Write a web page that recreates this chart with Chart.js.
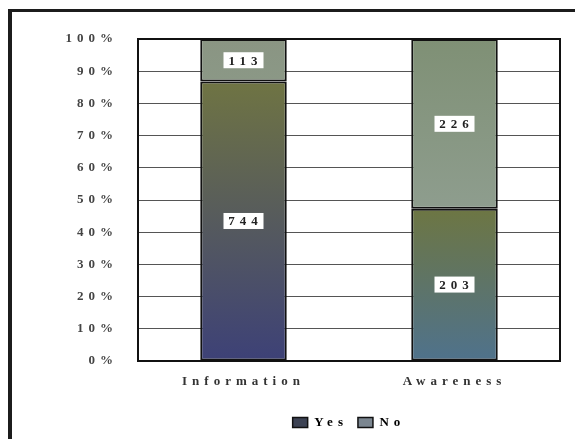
<!DOCTYPE html>
<html>
<head>
<meta charset="utf-8">
<script src="https://cdn.jsdelivr.net/npm/chart.js@4"></script>
<style>
  body { margin: 0; background: #fff; }
  #wrap { position: relative; width: 575px; height: 439px; overflow: hidden; }
  #frame { position: absolute; left: 8px; top: 9px; width: 700px; height: 600px;
           border-top: 3px solid #1c1c1c; border-left: 4px solid #1c1c1c; }
  #chart { position: absolute; left: 0; top: 0; }
</style>
</head>
<body>
<div id="wrap">
  <div id="frame"></div>
  <canvas id="chart" width="575" height="439"></canvas>
</div>
<script>
// categories and counts
const categories = ['Information', 'Awareness'];
const yesCounts = [744, 203];
const noCounts = [113, 226];
const seriesNames = ['Yes', 'No'];

// stacked to 100%
const totals = yesCounts.map((v, i) => v + noCounts[i]);
const yesPct = yesCounts.map((v, i) => v / totals[i] * 100);
const noPct = noCounts.map((v, i) => v / totals[i] * 100);

const serif = '"Liberation Serif", "Times New Roman", serif';

// gradient stops per bar segment (top colour, bottom colour)
const yesColors = [['#6f7443', '#3d4177'], ['#6d7643', '#4f728c']];
const noColors = [['#8a9583', '#8b9886'], ['#7f9075', '#8e9d8e']];

function segmentGradient(context, stops) {
    const chart = context.chart;
    const yScale = chart.scales.y;
    const i = context.dataIndex;
    if (!chart.chartArea || !yScale) return stops[i][0];
    // value range of this segment in the stack
    const low = context.datasetIndex === 0 ? 0 : yesPct[i];
    const high = context.datasetIndex === 0 ? yesPct[i] : 100;
    const top = yScale.getPixelForValue(high);
    const bottom = yScale.getPixelForValue(low);
    if (!isFinite(top) || !isFinite(bottom) || top === bottom) return stops[i][0];
    const g = chart.ctx.createLinearGradient(0, top, 0, bottom);
    g.addColorStop(0, stops[i][0]);
    g.addColorStop(1, stops[i][1]);
    return g;
}

// spaced-out lettering like the scan
const spacingPlugin = {
    id: 'spacing',
    beforeUpdate(chart) { chart.ctx.letterSpacing = '5px'; },
    beforeDraw(chart) { chart.ctx.letterSpacing = '5px'; }
};

// black box round the plot area
const frameBox = {
    id: 'frameBox',
    beforeDatasetsDraw(chart) {
        const { ctx, chartArea: a } = chart;
        ctx.save();
        ctx.strokeStyle = '#111';
        ctx.lineWidth = 2;
        ctx.strokeRect(a.left, a.top, a.right - a.left, a.bottom - a.top);
        ctx.restore();
    }
};

// count labels in white boxes
const countLabels = {
    id: 'countLabels',
    afterDatasetsDraw(chart) {
        const ctx = chart.ctx;
        const counts = [yesCounts, noCounts];
        ctx.save();
        ctx.font = 'bold 13px ' + serif;
        ctx.textAlign = 'center';
        ctx.textBaseline = 'middle';
        chart.data.datasets.forEach((ds, di) => {
            chart.getDatasetMeta(di).data.forEach((bar, i) => {
                const text = String(counts[di][i]);
                const cx = bar.x;
                const cy = (bar.y + bar.base) / 2;
                const w = 40, h = 16;
                ctx.fillStyle = '#fff';
                ctx.fillRect(cx - w / 2, cy - h / 2, w, h);
                ctx.fillStyle = '#222';
                ctx.fillText(text, cx + 2, cy + 1);
            });
        });
        ctx.restore();
    }
};

const ctx = document.getElementById('chart').getContext('2d');

new Chart(ctx, {
    type: 'bar',
    data: {
        labels: categories,
        datasets: [
            {
                label: seriesNames[0],
                data: yesPct,
                backgroundColor: c => segmentGradient(c, yesColors),
                borderColor: '#111',
                borderWidth: 2,
                borderSkipped: false
            },
            {
                label: seriesNames[1],
                data: noPct,
                backgroundColor: c => segmentGradient(c, noColors),
                borderColor: '#111',
                borderWidth: 2,
                borderSkipped: false
            }
        ]
    },
    options: {
        responsive: false,
        animation: false,
        layout: { padding: { top: 39, right: 15, left: 0, bottom: 0 } },
        datasets: {
            bar: { categoryPercentage: 1, barPercentage: 0.41 }
        },
        plugins: {
            legend: {
                position: 'bottom',
                fullSize: false,
                labels: {
                    font: { family: serif, size: 13, weight: 'bold' },
                    color: '#444',
                    boxWidth: 15,
                    boxHeight: 10,
                    padding: 10,
                    generateLabels: () => [
                        { text: seriesNames[0], fillStyle: '#3c4253', strokeStyle: '#111', lineWidth: 1.5, datasetIndex: 0 },
                        { text: seriesNames[1], fillStyle: '#7b8690', strokeStyle: '#111', lineWidth: 1.5, datasetIndex: 1 }
                    ]
                }
            },
            tooltip: { enabled: false }
        },
        scales: {
            x: {
                stacked: true,
                grid: { display: false, drawTicks: false },
                border: { display: false },
                ticks: {
                    padding: 13,
                    color: '#333',
                    font: { family: serif, size: 13, weight: 'bold' }
                },
                afterFit: scale => { scale.height = 45; }
            },
            y: {
                stacked: true,
                min: 0,
                max: 100,
                grid: { color: '#555', lineWidth: 1, drawTicks: false },
                border: { display: false },
                ticks: {
                    stepSize: 10,
                    padding: 20,
                    color: '#444',
                    font: { family: serif, size: 13, weight: 'bold' },
                    callback: v => v + '%'
                },
                afterFit: scale => { scale.width = 138; }
            }
        }
    },
    plugins: [spacingPlugin, frameBox, countLabels]
});
</script>
</body>
</html>
